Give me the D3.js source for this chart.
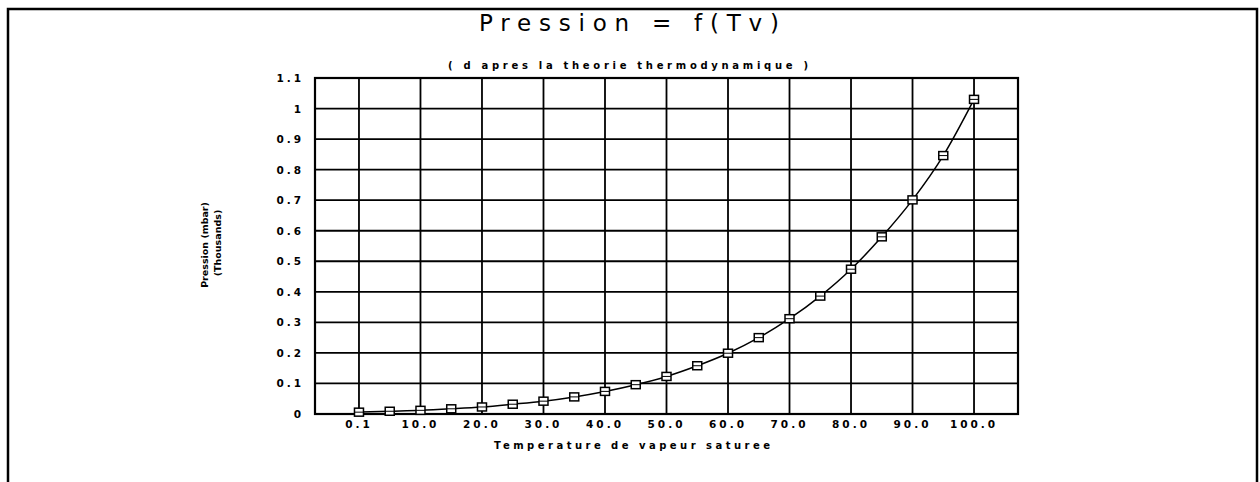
<!DOCTYPE html>
<html>
<head>
<meta charset="utf-8">
<script src="https://cdn.jsdelivr.net/npm/d3@7"></script>
<style>
  html, body { margin: 0; padding: 0; background: #fff; }
  svg { display: block; }
  text { font-family: "DejaVu Sans", sans-serif; fill: #000; }
</style>
</head>
<body>
<div id="chart"></div>
<script>
// ---- data ----
const temperatures = ["0.1","5","10","15","20","25","30","35","40","45","50","55","60","65","70","75","80","85","90","95","100"];
const pressureThousands = [0.006,0.009,0.012,0.017,0.023,0.032,0.042,0.056,0.074,0.096,0.123,0.158,0.199,0.250,0.312,0.386,0.474,0.580,0.701,0.846,1.030];
const xTickLabels = ["0.1","10.0","20.0","30.0","40.0","50.0","60.0","70.0","80.0","90.0","100.0"];
const yTicks = [0,0.1,0.2,0.3,0.4,0.5,0.6,0.7,0.8,0.9,1,1.1];
const yTickLabels = ["0","0.1","0.2","0.3","0.4","0.5","0.6","0.7","0.8","0.9","1","1.1"];
const titleText = "Pression = f(Tv)";
const subtitleText = "( d apres la theorie thermodynamique )";
const xLabelText = "Temperature de vapeur saturee";
const yLabelLines = ["Pression (mbar)", "(Thousands)"];

const W = 1260, H = 482;
const plot = { left: 315, right: 1018, top: 78, bottom: 414 };

const svg = d3.select("#chart").append("svg").attr("width", W).attr("height", H);

// outer frame
svg.append("rect").attr("x", 8).attr("y", 9).attr("width", 1249).attr("height", 500)
  .attr("fill", "none").attr("stroke", "#000").attr("stroke-width", 2.5);

const x = d3.scalePoint().domain(temperatures).range([plot.left, plot.right]).padding(1.43);
const y = d3.scaleLinear().domain([0, 1.1]).range([plot.bottom, plot.top]);

// gridlines horizontal
svg.append("g").selectAll("line").data(yTicks).join("line")
  .attr("x1", plot.left).attr("x2", plot.right)
  .attr("y1", d => y(d)).attr("y2", d => y(d))
  .attr("stroke", "#000").attr("stroke-width", 1.8);

// vertical gridlines at labelled categories
const gridCats = temperatures.filter((d, i) => i % 2 === 0);
svg.append("g").selectAll("line").data(gridCats).join("line")
  .attr("x1", d => x(d)).attr("x2", d => x(d))
  .attr("y1", plot.top).attr("y2", plot.bottom)
  .attr("stroke", "#000").attr("stroke-width", 1.8);

// plot frame
svg.append("rect").attr("x", plot.left).attr("y", plot.top)
  .attr("width", plot.right - plot.left).attr("height", plot.bottom - plot.top)
  .attr("fill", "none").attr("stroke", "#000").attr("stroke-width", 2.2);

// y tick labels
svg.append("g").selectAll("text").data(yTicks).join("text")
  .attr("x", 304).attr("y", d => y(d) + 4)
  .attr("text-anchor", "end")
  .attr("font-size", 10.5).attr("font-weight", "bold")
  .attr("letter-spacing", 3)
  .text((d, i) => yTickLabels[i]);

// x tick labels
svg.append("g").selectAll("text").data(gridCats).join("text")
  .attr("x", d => x(d)).attr("y", 428)
  .attr("text-anchor", "middle")
  .attr("font-size", 10.5).attr("font-weight", "bold")
  .attr("letter-spacing", 3)
  .text((d, i) => xTickLabels[i]);

// curve
const line = d3.line().x((d, i) => x(temperatures[i])).y(d => y(d)).curve(d3.curveMonotoneX);
svg.append("path").datum(pressureThousands).attr("d", line)
  .attr("fill", "none").attr("stroke", "#000").attr("stroke-width", 1.5);

// markers
const mk = svg.append("g").selectAll("g").data(pressureThousands).join("g")
  .attr("transform", (d, i) => `translate(${x(temperatures[i])},${y(d)})`);
mk.append("rect").attr("x", -4.5).attr("y", -4).attr("width", 9).attr("height", 8)
  .attr("fill", "#fff").attr("stroke", "#000").attr("stroke-width", 1.5);
mk.append("line").attr("x1", -4.5).attr("x2", 4.5).attr("y1", 0).attr("y2", 0)
  .attr("stroke", "#000").attr("stroke-width", 1);

// title
svg.append("text").attr("x", 629).attr("y", 31).attr("text-anchor", "middle")
  .attr("font-size", 23).attr("textLength", 300).attr("lengthAdjust", "spacing")
  .text(titleText);
svg.append("text").attr("x", 628).attr("y", 69).attr("text-anchor", "middle")
  .attr("font-size", 10).attr("font-weight", "bold")
  .attr("textLength", 360).attr("lengthAdjust", "spacing")
  .text(subtitleText);

// x label
svg.append("text").attr("x", 632).attr("y", 449).attr("text-anchor", "middle")
  .attr("font-size", 10).attr("font-weight", "bold")
  .attr("textLength", 276).attr("lengthAdjust", "spacing")
  .text(xLabelText);

// y label
svg.append("text").attr("transform", "translate(208,245) rotate(-90)")
  .attr("text-anchor", "middle").attr("font-size", 9.5).attr("font-weight", "bold")
  .text(yLabelLines[0]);
svg.append("text").attr("transform", "translate(221,243) rotate(-90)")
  .attr("text-anchor", "middle").attr("font-size", 9.5).attr("font-weight", "bold")
  .text(yLabelLines[1]);
</script>
</body>
</html>
